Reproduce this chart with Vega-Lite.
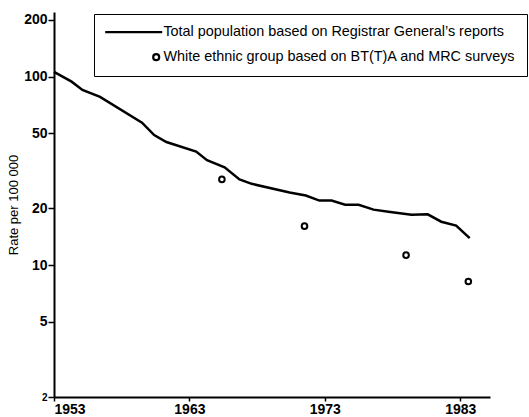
{
  "$schema": "https://vega.github.io/schema/vega-lite/v6.json",
  "width": 436,
  "height": 385,
  "autosize": {"type": "none"},
  "padding": {"left": 54, "top": 12, "right": 39, "bottom": 20},
  "config": {
    "view": {"stroke": null},
    "font": "Liberation Sans",
    "axis": {"grid": false, "domainColor": "black", "tickColor": "black", "labelColor": "black", "titleColor": "black", "domainWidth": 2, "tickWidth": 1.5}
  },
  "datasets": {
    "total": [
      {"year": 1953.0, "rate": 106},
      {"year": 1954.3, "rate": 94},
      {"year": 1955.1, "rate": 85},
      {"year": 1956.4, "rate": 78},
      {"year": 1959.5, "rate": 57},
      {"year": 1960.4, "rate": 49},
      {"year": 1961.3, "rate": 45},
      {"year": 1963.5, "rate": 40},
      {"year": 1964.3, "rate": 36},
      {"year": 1965.6, "rate": 33},
      {"year": 1966.7, "rate": 28.5},
      {"year": 1967.6, "rate": 27},
      {"year": 1970.4, "rate": 24.3},
      {"year": 1971.6, "rate": 23.4},
      {"year": 1972.6, "rate": 22},
      {"year": 1973.5, "rate": 22},
      {"year": 1974.5, "rate": 20.9},
      {"year": 1975.5, "rate": 20.9},
      {"year": 1976.6, "rate": 19.7},
      {"year": 1977.7, "rate": 19.2},
      {"year": 1979.4, "rate": 18.5},
      {"year": 1980.6, "rate": 18.6},
      {"year": 1981.6, "rate": 17},
      {"year": 1982.7, "rate": 16.2},
      {"year": 1983.7, "rate": 13.9}
    ],
    "white": [
      {"year": 1965.4, "rate": 28.5, "series": "White ethnic group based on BT(T)A and MRC surveys"},
      {"year": 1971.5, "rate": 16.1, "series": "White ethnic group based on BT(T)A and MRC surveys"},
      {"year": 1979.0, "rate": 11.3, "series": "White ethnic group based on BT(T)A and MRC surveys"},
      {"year": 1983.6, "rate": 8.2, "series": "White ethnic group based on BT(T)A and MRC surveys"}
    ]
  },
  "encoding": {
    "x": {
      "field": "year", "type": "quantitative",
      "scale": {"domain": [1953, 1985.2], "nice": false, "zero": false},
      "axis": {"values": [1953, 1963, 1973, 1983], "format": "d", "title": null, "labelFontWeight": "bold", "labelFontSize": 14, "tickSize": 4, "labelPadding": 1}
    },
    "y": {
      "field": "rate", "type": "quantitative",
      "scale": {"type": "log", "domain": [2, 220], "nice": false},
      "axis": {"values": [2, 5, 10, 20, 50, 100, 200], "title": "Rate per 100 000", "titleFontWeight": "normal", "titleFontSize": 13, "titlePadding": 3, "labelFontWeight": "bold", "labelFontSize": {"condition": {"test": "datum.value == 2", "value": 10}, "value": 14}, "tickSize": 6, "labelPadding": 1}
    }
  },
  "layer": [
    {
      "data": {"name": "total"},
      "mark": {"type": "line", "stroke": "black", "strokeWidth": 2.5}
    },
    {
      "data": {"name": "white"},
      "mark": {"type": "point", "filled": false, "strokeWidth": 2, "size": 87, "opacity": 1},
      "encoding": {
        "color": {
          "field": "series", "type": "nominal",
          "scale": {"domain": ["Total population based on Registrar General’s reports", "White ethnic group based on BT(T)A and MRC surveys"], "range": ["black", "black"]},
          "legend": {
            "orient": "none", "legendX": 40, "legendY": 2, "title": null,
            "strokeColor": "black", "padding": 11, "rowPadding": 10,
            "labelFontSize": 14.4, "labelColor": "black", "labelOffset": 0, "labelLimit": 500,
            "symbolSize": 100, "symbolStrokeWidth": 2.2, "symbolStrokeColor": "black", "symbolOffset": 44, "symbolOpacity": 1,
            "encode": {
              "legend": {"update": {"strokeWidth": {"value": 1.8}}}
            }
          }
        },
        "shape": {
          "field": "series", "type": "nominal",
          "scale": {"domain": ["Total population based on Registrar General’s reports", "White ethnic group based on BT(T)A and MRC surveys"], "range": ["M-10.2,0H1.2", "M0.6,0A0.6,0.6,0,1,1,-0.6,0A0.6,0.6,0,1,1,0.6,0Z"]}
        }
      }
    }
  ]
}
